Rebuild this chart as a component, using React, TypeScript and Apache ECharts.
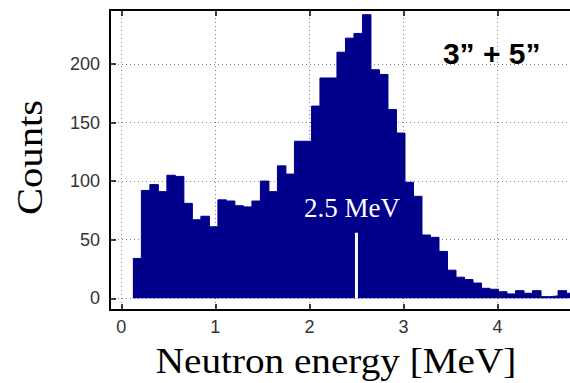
import React, { useEffect, useRef } from "react";
import * as echarts from "echarts";

// Histogram counts per energy bin
const counts: number[] = [
  34, 92, 97, 91, 105, 104, 81, 67, 70, 61,
  84, 83, 79, 78, 83, 100, 91, 113, 106, 134,
  134, 164, 188, 188, 210, 222, 226, 242, 195, 191,
  161, 141, 99, 87, 54, 52, 40, 24, 18, 16,
  13, 8.5, 7.7, 5.6, 3.7, 6.5, 4.3, 6.5, 1.4, 2,
  6.5, 4.3,
];
const BIN_START = 0.123; // MeV, left edge of first bin
const BIN_WIDTH = 0.0904; // MeV

const xTicks: number[] = [0, 1, 2, 3, 4];
const yTicks: number[] = [0, 50, 100, 150, 200];

const peakEnergy = 2.5;
const peakMarkerTop = 56;
const peakLabel = "2.5 MeV";
const panelLabel = "3\u201D + 5\u201D";
const xName = "Neutron energy [MeV]";
const yName = "Counts";

export default function App() {
  const ref = useRef<HTMLDivElement>(null);

  useEffect(() => {
    if (!ref.current) return;
    const chart = echarts.init(ref.current, undefined, { renderer: "svg" });

    const stepData: number[][] = counts.map((c, i) => [BIN_START + i * BIN_WIDTH, c]);
    stepData.push([BIN_START + counts.length * BIN_WIDTH, counts[counts.length - 1]]);

    const navy = "#00008b";
    const tickLabel = {
      fontFamily: "Liberation Sans, Arial, sans-serif",
      fontSize: 18,
      color: "#333",
    };
    const dotted = { color: "#808080", width: 1, type: [1, 3] as number[] };
    const xMin = -0.12;
    const xMax = 4.77;

    chart.setOption({
      animation: false,
      backgroundColor: "#fff",
      grid: {
        left: 110,
        right: 0,
        top: 10,
        bottom: 73,
        show: false,
      },
      xAxis: [
        {
          type: "value",
          min: xMin,
          max: xMax,
          position: "bottom",
          axisLine: { show: true, onZero: false, lineStyle: { color: "#000", width: 2 } },
          axisTick: {
            show: true,
            inside: true,
            length: 6,
            customValues: xTicks,
            lineStyle: { color: "#000", width: 1.5 },
          },
          axisLabel: { ...tickLabel, margin: 8, customValues: xTicks },
          splitLine: { show: true, lineStyle: dotted },
        },
        {
          type: "value",
          min: xMin,
          max: xMax,
          position: "top",
          axisLine: { show: true, onZero: false, lineStyle: { color: "#000", width: 2 } },
          axisTick: {
            show: true,
            inside: true,
            length: 6,
            customValues: xTicks,
            lineStyle: { color: "#000", width: 1.5 },
          },
          axisLabel: { show: false },
          splitLine: { show: false },
        },
      ],
      yAxis: {
        type: "value",
        min: -10,
        max: 246,
        axisLine: { show: true, onZero: false, lineStyle: { color: "#000", width: 2 } },
        axisTick: {
          show: true,
          inside: true,
          length: 6,
          customValues: yTicks,
          lineStyle: { color: "#000", width: 1.5 },
        },
        axisLabel: { ...tickLabel, margin: 10, customValues: yTicks },
        splitLine: { show: true, lineStyle: dotted },
      },
      series: [
        {
          type: "line",
          step: "end",
          xAxisIndex: 0,
          data: stepData,
          symbol: "none",
          lineStyle: { color: navy, width: 1 },
          areaStyle: { color: navy, opacity: 1 },
          z: 2,
          silent: true,
        },
        {
          type: "line",
          xAxisIndex: 0,
          data: [
            [peakEnergy, 0],
            [peakEnergy, peakMarkerTop],
          ],
          symbol: "none",
          lineStyle: { color: "#fff", width: 3 },
          z: 3,
          silent: true,
        },
      ],
      graphic: [
        {
          type: "text",
          x: 352,
          y: 207.5,
          z: 10,
          style: {
            text: peakLabel,
            fill: "#fff",
            fontFamily: "Liberation Serif, Times New Roman, serif",
            fontSize: 27,
            textAlign: "center",
            textVerticalAlign: "middle",
          },
        },
        {
          type: "text",
          x: 491.7,
          y: 53,
          z: 10,
          style: {
            text: panelLabel,
            fill: "#000",
            fontFamily: "Liberation Sans, Arial, sans-serif",
            fontWeight: "bold",
            fontSize: 30,
            textAlign: "center",
            textVerticalAlign: "middle",
          },
        },
        {
          type: "text",
          x: 336,
          y: 361.5,
          scaleX: 1.12,
          z: 10,
          style: {
            text: xName,
            fill: "#000",
            fontFamily: "Liberation Serif, Times New Roman, serif",
            fontSize: 35,
            textAlign: "center",
            textVerticalAlign: "middle",
          },
        },
        {
          type: "text",
          x: 30,
          y: 157.5,
          rotation: Math.PI / 2,
          scaleX: 1.16,
          z: 10,
          style: {
            text: yName,
            fill: "#000",
            fontFamily: "Liberation Serif, Times New Roman, serif",
            fontSize: 35,
            textAlign: "center",
            textVerticalAlign: "middle",
          },
        },
      ],
    });

    return () => chart.dispose();
  }, []);

  return <div ref={ref} style={{ width: 570, height: 383, position: "absolute", left: 0, top: 0 }} />;
}
